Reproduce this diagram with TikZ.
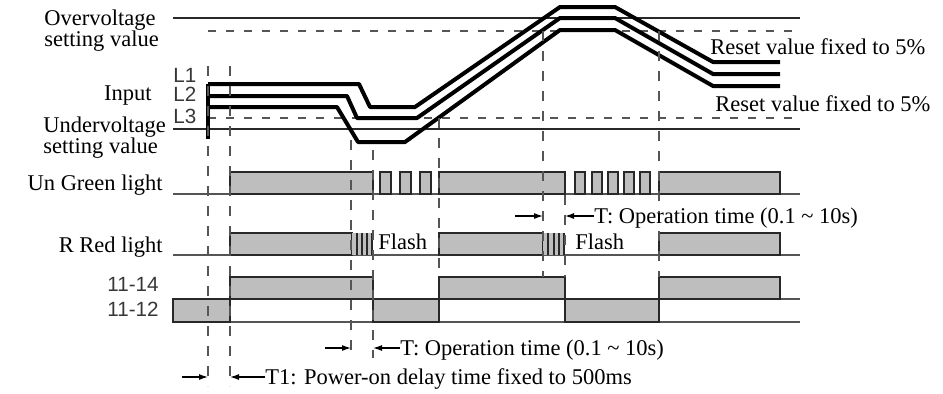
\documentclass[tikz,border=0pt]{standalone}
\usepackage{fontspec}
\setmainfont{Liberation Serif}
\newfontfamily\pinfont{Liberation Sans}
\usetikzlibrary{arrows.meta}
\definecolor{boxfill}{RGB}{190,190,190}
\definecolor{edge}{RGB}{40,40,40}
\definecolor{soft}{RGB}{85,85,85}
\definecolor{pingray}{RGB}{55,55,55}

\begin{document}
\begin{tikzpicture}[x=0.5pt, y=-0.5pt,
  level/.style={line width=1.3pt, edge},
  reset/.style={line width=0.75pt, soft, dash pattern=on 4pt off 5pt},
  phase/.style={line width=2pt, line join=round},
  tmark/.style={line width=0.7pt, soft, dash pattern=on 5pt off 5pt},
  axis/.style={line width=0.8pt, soft},
  pulse/.style={draw=edge, line width=1pt, fill=boxfill},
  bar/.style={edge, line width=1.2pt},
  span/.style={-{Latex[length=4.5pt,width=3pt]}, line width=0.6pt},
  lab/.style={font=\fontsize{11.25}{10.5}\selectfont, inner sep=0pt},
  pin/.style={font=\pinfont\fontsize{10.3}{11}\selectfont, text=pingray, inner sep=0pt}]
\useasboundingbox (0,0) rectangle (943,393);

\node[lab, anchor=north west, align=left] (over) at (44,9) {Overvoltage\\setting value};
\node[lab, anchor=base east] (input) at (152,100) {Input};
\node[lab, anchor=north west, align=left] (under) at (43,116) {Undervoltage\\setting value};
\node[pin, anchor=base west] (l1) at (173,82) {L1};
\node[pin, anchor=base west] (l2) at (173,101) {L2};
\node[pin, anchor=base west] (l3) at (173,123) {L3};
\node[lab, anchor=base west] (rsthi) at (710,54) {Reset value fixed to 5\%};
\node[lab, anchor=base west] (rstlo) at (715,111) {Reset value fixed to 5\%};

\draw[level] (173,18) -- (800,18);
\draw[reset] (208,31) -- (795,31);
\draw[reset] (208,118) -- (795,118);
\draw[level] (173,129) -- (800,129);
\draw[phase] (208,84) -- (359,84) -- (370,107) -- (415,107) -- (560,7) -- (615,7) -- (713,62) -- (780,62);
\draw[phase] (208,96) -- (347,96) -- (357,118) -- (417,118) -- (560,18) -- (615,18) -- (713,74) -- (780,74);
\draw[phase] (208,107) -- (337,107) -- (358,142) -- (405,142) -- (560,30) -- (615,30) -- (713,86) -- (780,86);
\draw[phase] (208,84) -- (208,139);

\node[lab, anchor=base east] (green) at (163,190) {Un Green light};
\draw[axis] (173,194) -- (800,194);
\draw[pulse] (230,194) rectangle (373,172);
\foreach \a in {380,400,420} \draw[pulse] (\a,194) rectangle ++(11,-22);
\draw[pulse] (439,194) rectangle (565,172);
\foreach \a in {575,592,608,624,640} \draw[pulse] (\a,194) rectangle ++(10,-22);
\draw[pulse] (659,194) rectangle (780,172);

\node[lab, anchor=base east] (red) at (163,252) {R Red light};
\draw[axis] (173,255) -- (800,255);
\draw[pulse] (230,255) rectangle (352,233);
\fill[boxfill] (352,255) rectangle (373,233);
\foreach \a in {357,362,367,372} \draw[bar] (\a,255) -- (\a,233);
\node[lab, anchor=base west] (flash1) at (378,249) {Flash};
\draw[pulse] (439,255) rectangle (543,233);
\fill[boxfill] (543,255) rectangle (565,233);
\foreach \a in {548,554,559,564} \draw[bar] (\a,255) -- (\a,233);
\node[lab, anchor=base west] (flash2) at (575,249) {Flash};
\draw[pulse] (659,255) rectangle (780,233);

\node[pin, anchor=base east] (no) at (159,291) {11-14};
\node[pin, anchor=base east] (nc) at (159,316) {11-12};
\draw[axis] (173,299) -- (800,299);
\draw[axis] (173,322) -- (800,322);
\foreach \a/\b in {230/373,439/565,659/780} \draw[pulse] (\a,299) rectangle (\b,277);
\foreach \a/\b in {173/230,373/439,565/659} \draw[pulse] (\a,322) rectangle (\b,299);

\foreach \x/\a/\b in {208/66/386, 230/66/386, 351/140/358, 373/150/358, 439/118/277, 543/31/277, 565/195/277, 659/31/277}
  \draw[tmark] (\x,\a) -- (\x,\b);

\coordinate (ovon) at (543,216);
\coordinate (ovop) at (565,216);
\node[lab, anchor=base west] (ovtxt) at (594,223) {T: Operation time (0.1 \textasciitilde{} 10s)};
\draw[span] ([xshift=-14pt]ovon) -- (ovon);
\draw[span] (ovtxt.west |- ovop) -- (ovop);

\coordinate (unon) at (351,348);
\coordinate (unop) at (373,348);
\node[lab, anchor=base west] (untxt) at (400,355) {T: Operation time (0.1 \textasciitilde{} 10s)};
\draw[span] ([xshift=-13pt]unon) -- (unon);
\draw[span] (untxt.west |- unop) -- (unop);

\coordinate (pwon) at (208,377);
\coordinate (pwop) at (230,377);
\node[lab, anchor=base west] (pwtxt) at (265,384) {T1: Power-on delay time fixed to 500ms};
\draw[span] ([xshift=-13pt]pwon) -- (pwon);
\draw[span] (pwtxt.west |- pwop) -- (pwop);
\end{tikzpicture}
\end{document}
